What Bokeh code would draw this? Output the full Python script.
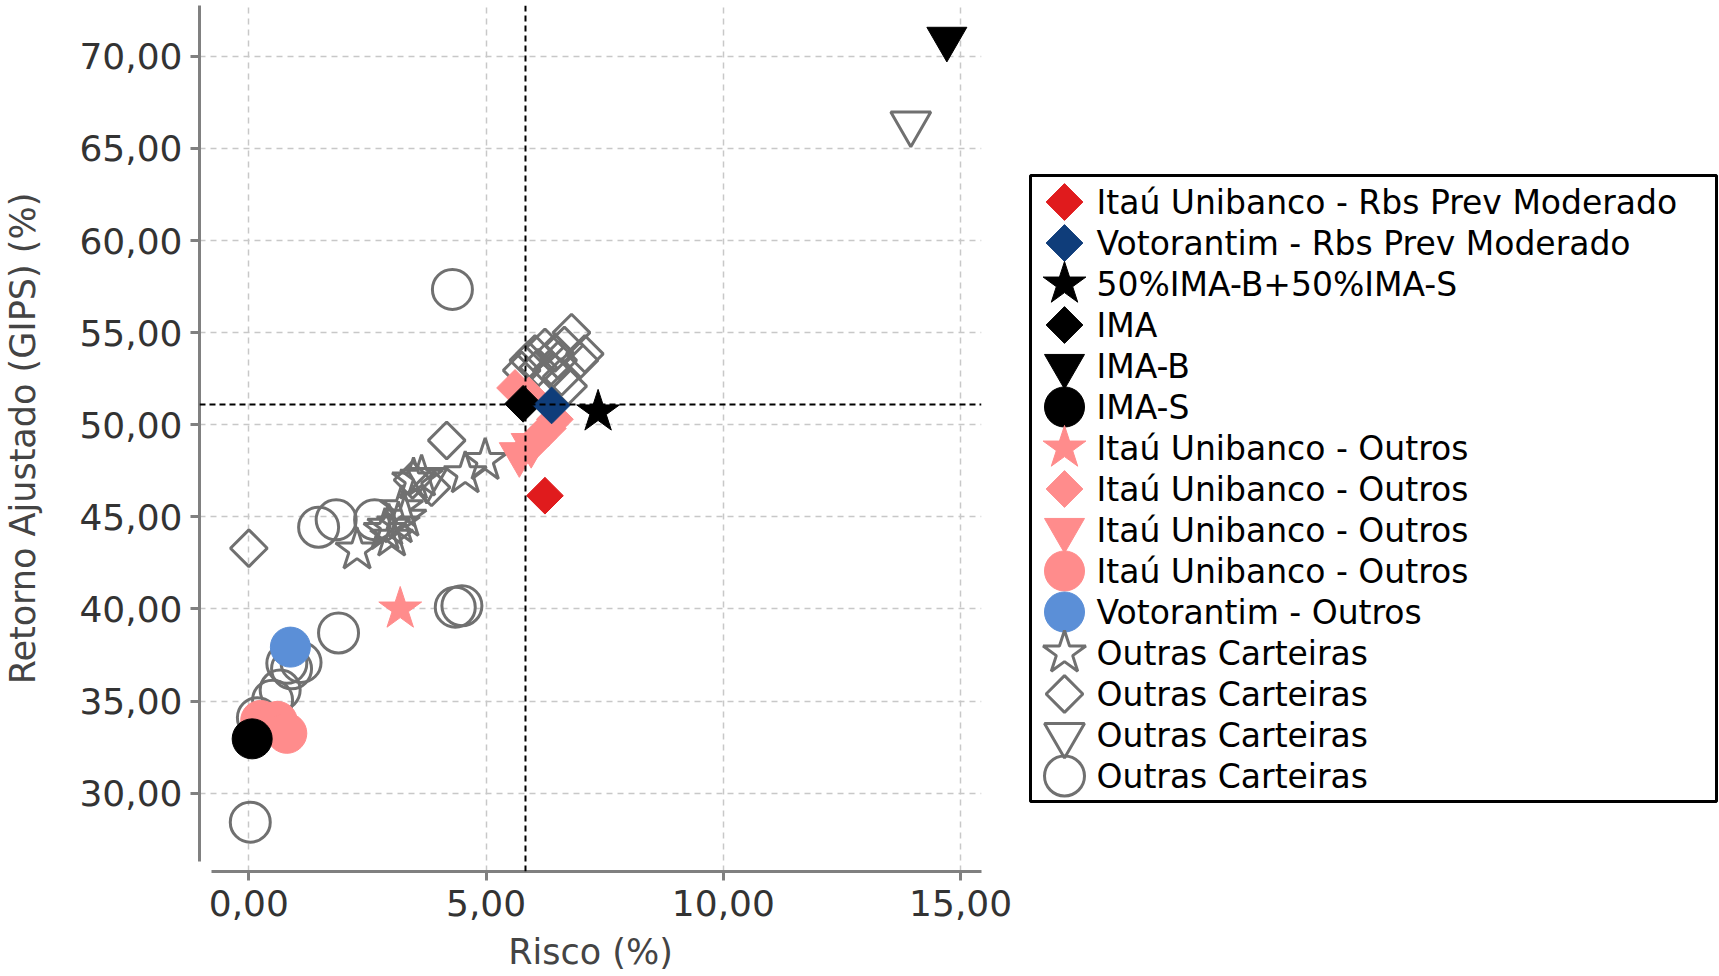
import numpy as np
from bokeh.plotting import figure
from bokeh.layouts import row
from bokeh.models import Span, FixedTicker
from bokeh.core.properties import value
from bokeh.embed import file_html
from bokeh.resources import INLINE

# ---------------- data (risco %, retorno ajustado %) ----------------
ITAU_RBS_RISCO = [6.24]
ITAU_RBS_RET = [46.15]
VOTO_RBS_RISCO = [6.38]
VOTO_RBS_RET = [51.05]
MIX_RISCO = [7.36]
MIX_RET = [50.70]
IMA_RISCO = [5.78]
IMA_RET = [51.14]
IMAB_RISCO = [14.71]
IMAB_RET = [70.95]
IMAS_RISCO = [0.07]
IMAS_RET = [32.95]

ITAU_OUT_STAR_RISCO = [3.19]
ITAU_OUT_STAR_RET = [40.00]
ITAU_OUT_DIAM_RISCO = [5.61, 5.90, 6.45, 6.30, 6.10, 5.95]
ITAU_OUT_DIAM_RET = [52.00, 51.60, 50.30, 49.80, 49.30, 48.90]
ITAU_OUT_TRI_RISCO = [5.70, 5.95]
ITAU_OUT_TRI_RET = [48.40, 48.90]
ITAU_OUT_CIRC_RISCO = [0.25, 0.60, 0.80]
ITAU_OUT_CIRC_RET = [33.95, 33.90, 33.25]
VOTO_OUT_RISCO = [0.875]
VOTO_OUT_RET = [37.93]

OUT_STAR_RISCO = [2.28, 2.87, 3.15, 3.29, 3.01, 3.22, 2.95, 3.47, 3.64, 4.56, 4.98]
OUT_STAR_RET = [43.20, 44.26, 44.62, 44.98, 43.90, 45.50, 44.50, 47.00, 47.16, 47.34, 48.06]
OUT_DIAM_RISCO = [0.00, 4.17, 3.45, 3.85, 6.80, 7.08, 6.97, 6.24, 6.03, 5.89, 5.75,
                  6.10, 6.52, 6.59, 6.38, 6.73, 6.45, 6.65]
OUT_DIAM_RET = [43.30, 49.15, 47.00, 46.60, 55.00, 53.85, 53.50, 54.20, 53.85, 53.50, 52.95,
                53.10, 53.50, 52.60, 52.95, 52.10, 53.90, 54.30]
OUT_TRI_RISCO = [13.95, 3.75]
OUT_TRI_RET = [66.35, 47.00]
OUT_CIRC_RISCO = [4.29, 1.47, 1.84, 2.65, 4.35, 4.49, 1.89, 0.80, 1.10, 0.90, 0.66, 0.50, 0.18, 0.03]
OUT_CIRC_RET = [57.35, 44.44, 44.84, 44.85, 40.10, 40.18, 38.70, 37.05, 37.10, 36.75, 35.60,
                35.05, 34.10, 28.43]

RISCO_MEDIO = 5.83
RETORNO_MEDIO = 51.10

X_TICKS = [0, 5, 10, 15]
X_TICK_LABELS = ["0,00", "5,00", "10,00", "15,00"]
Y_TICKS = [30, 35, 40, 45, 50, 55, 60, 65, 70]
Y_TICK_LABELS = ["30,00", "35,00", "40,00", "45,00", "50,00", "55,00", "60,00", "65,00", "70,00"]

LBL_ITAU_RBS = "Itaú Unibanco - Rbs Prev Moderado"
LBL_VOTO_RBS = "Votorantim - Rbs Prev Moderado"
LBL_MIX = "50%IMA-B+50%IMA-S"
LBL_IMA = "IMA"
LBL_IMAB = "IMA-B"
LBL_IMAS = "IMA-S"
LBL_ITAU_OUT = "Itaú Unibanco - Outros"
LBL_VOTO_OUT = "Votorantim - Outros"
LBL_OUT = "Outras Carteiras"

# ---------------- styles ----------------
RED = "#e01b1d"
DARKBLUE = "#0f3d7a"
BLACK = "#000000"
PINK = "#ff8c8c"
LIGHTBLUE = "#5b8fd7"
GRAY = "#707070"
FONT = "DejaVu Sans"

SIZES = {"circle": 40, "square": 26, "star": 45, "inverted_triangle": 40}
ANGLES = {"circle": 0.0, "square": np.pi / 4, "star": 0.0, "inverted_triangle": 0.0}

# legend order (top to bottom); drawn on the plot in reverse order
SERIES = [
    (LBL_ITAU_RBS, ITAU_RBS_RISCO, ITAU_RBS_RET, "square", RED, True),
    (LBL_VOTO_RBS, VOTO_RBS_RISCO, VOTO_RBS_RET, "square", DARKBLUE, True),
    (LBL_MIX, MIX_RISCO, MIX_RET, "star", BLACK, True),
    (LBL_IMA, IMA_RISCO, IMA_RET, "square", BLACK, True),
    (LBL_IMAB, IMAB_RISCO, IMAB_RET, "inverted_triangle", BLACK, True),
    (LBL_IMAS, IMAS_RISCO, IMAS_RET, "circle", BLACK, True),
    (LBL_ITAU_OUT, ITAU_OUT_STAR_RISCO, ITAU_OUT_STAR_RET, "star", PINK, True),
    (LBL_ITAU_OUT, ITAU_OUT_DIAM_RISCO, ITAU_OUT_DIAM_RET, "square", PINK, True),
    (LBL_ITAU_OUT, ITAU_OUT_TRI_RISCO, ITAU_OUT_TRI_RET, "inverted_triangle", PINK, True),
    (LBL_ITAU_OUT, ITAU_OUT_CIRC_RISCO, ITAU_OUT_CIRC_RET, "circle", PINK, True),
    (LBL_VOTO_OUT, VOTO_OUT_RISCO, VOTO_OUT_RET, "circle", LIGHTBLUE, True),
    (LBL_OUT, OUT_STAR_RISCO, OUT_STAR_RET, "star", GRAY, False),
    (LBL_OUT, OUT_DIAM_RISCO, OUT_DIAM_RET, "square", GRAY, False),
    (LBL_OUT, OUT_TRI_RISCO, OUT_TRI_RET, "inverted_triangle", GRAY, False),
    (LBL_OUT, OUT_CIRC_RISCO, OUT_CIRC_RET, "circle", GRAY, False),
]


def marker_style(marker, color, filled):
    style = dict(marker=marker, size=SIZES[marker], angle=ANGLES[marker], line_color=color)
    if filled:
        style.update(fill_color=color, line_width=1)
    else:
        style.update(fill_alpha=0, line_width=3)
    return style


FIG_H = 976
BORDER_TOP, BORDER_BOTTOM = 5, 105          # shared by both figures (row aligns them)
FRAME_H = FIG_H - BORDER_TOP - BORDER_BOTTOM

# ---------------- main plot ----------------
p = figure(width=1020, height=FIG_H, x_range=(-1.04, 15.44), y_range=(25.75, 72.76),
           output_backend="svg", toolbar_location=None,
           min_border_left=198, min_border_right=39,
           min_border_top=BORDER_TOP, min_border_bottom=BORDER_BOTTOM)
p.outline_line_color = None
p.background_fill_color = "white"
p.border_fill_color = "white"

for label, xs, ys, marker, color, filled in reversed(SERIES):
    p.scatter(xs, ys, **marker_style(marker, color, filled))

p.add_layout(Span(location=RISCO_MEDIO, dimension="height", line_color="black",
                  line_width=2, line_dash="6 4"))
p.add_layout(Span(location=RETORNO_MEDIO, dimension="width", line_color="black",
                  line_width=2, line_dash="6 4"))

for ax, ticks, labels in ((p.xaxis[0], X_TICKS, X_TICK_LABELS), (p.yaxis[0], Y_TICKS, Y_TICK_LABELS)):
    ax.ticker = FixedTicker(ticks=ticks)
    ax.major_label_overrides = dict(zip(ticks, labels))
    ax.axis_line_color = "#808080"
    ax.axis_line_width = 3
    ax.major_tick_line_color = "#808080"
    ax.major_tick_line_width = 3
    ax.major_tick_out = 9
    ax.major_tick_in = 0
    ax.minor_tick_line_color = None
    ax.major_label_text_font = FONT
    ax.major_label_text_font_size = "36px"
    ax.major_label_text_color = "#333333"
    ax.axis_label_text_font = FONT
    ax.axis_label_text_font_size = "35px"
    ax.axis_label_text_font_style = "normal"
    ax.axis_label_text_color = "#444444"

p.xaxis.axis_label = "Risco (%)"
p.yaxis.axis_label = "Retorno Ajustado (GIPS) (%)"
p.xaxis.bounds = (-0.78, 15.44)
p.yaxis.bounds = (26.3, 72.76)
p.xaxis.major_label_standoff = 9
p.xaxis.axis_label_standoff = 13
p.yaxis.major_label_standoff = 8
p.yaxis.axis_label_standoff = 33

for g, ticks in ((p.xgrid[0], X_TICKS), (p.ygrid[0], Y_TICKS)):
    g.ticker = FixedTicker(ticks=ticks)
    g.grid_line_color = "#c8c8c8"
    g.grid_line_width = 1.5
    g.grid_line_dash = "6 5"

# ---------------- legend panel (second figure, pixel-like units) ----------------
LEG_FIG_W = 698
LEG_BORDER_LEFT = 8
LEG_FRAME_W = LEG_FIG_W - LEG_BORDER_LEFT
BOX_LEFT, BOX_RIGHT = 2, LEG_FRAME_W - 2
BOX_TOP, BOX_BOTTOM = 175 - BORDER_TOP, 801 - BORDER_TOP
LEG_TOP_PAD, LEG_PITCH = 26.5, 41.0
LEG_MARKER_X, LEG_TEXT_X = BOX_LEFT + 34.0, BOX_LEFT + 66.0

leg = figure(width=LEG_FIG_W, height=FIG_H, x_range=(0, LEG_FRAME_W), y_range=(FRAME_H, 0),
             x_axis_type=None, y_axis_type=None, output_backend="svg", toolbar_location=None,
             min_border_left=LEG_BORDER_LEFT, min_border_right=0,
             min_border_top=BORDER_TOP, min_border_bottom=BORDER_BOTTOM)
leg.grid.visible = False
leg.outline_line_color = None
leg.background_fill_color = "white"
leg.border_fill_color = "white"

leg.quad(left=[BOX_LEFT], right=[BOX_RIGHT], top=[BOX_TOP], bottom=[BOX_BOTTOM],
         fill_color="white", line_color="black", line_width=3)

for i, (label, xs, ys, marker, color, filled) in enumerate(SERIES):
    yrow = BOX_TOP + LEG_TOP_PAD + LEG_PITCH * i
    leg.scatter([LEG_MARKER_X], [yrow], **marker_style(marker, color, filled))
    leg.text(x=[LEG_TEXT_X], y=[yrow], text=[label], text_baseline="middle", text_align="left",
             text_font=value(FONT), text_font_size="33px", text_color="black")

layout = row(p, leg)
open("out.html", "w").write(file_html(layout, INLINE))
